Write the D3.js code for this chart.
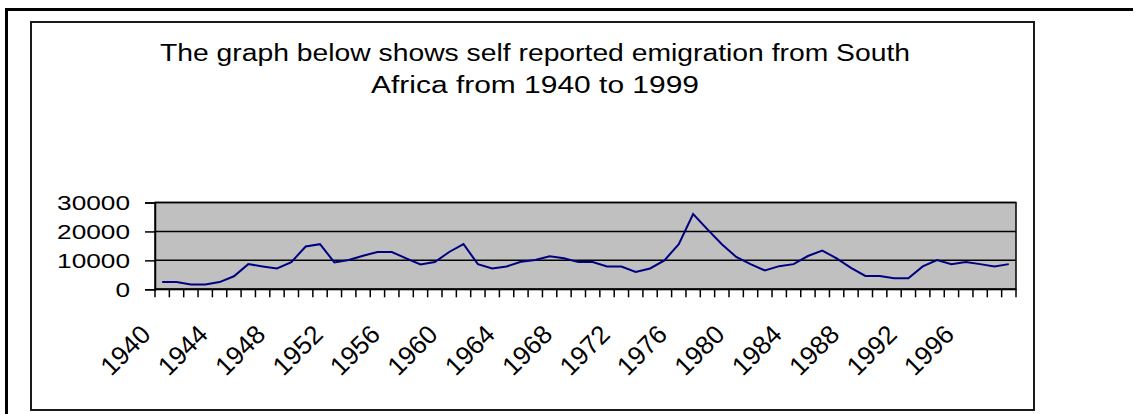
<!DOCTYPE html>
<html><head><meta charset="utf-8">
<script src="https://cdn.jsdelivr.net/npm/d3@7"></script>
<style>html,body{margin:0;padding:0;background:#fff}svg{display:block}</style>
</head><body>
<svg id="c" width="1135" height="414"></svg>
<script>
const years = d3.range(1940, 2000);
const emigrants = [
 2500,2500,1700,1700,2500,4500,8700,7900,7200,9400,
 14800,15600,9300,10100,11600,12900,12900,10700,8600,9400,
 12900,15600,8700,7200,7900,9500,10100,11400,10700,9400,
 9400,7900,7900,6000,7200,10000,15600,26000,20700,15600,
 11200,8700,6500,8000,8700,11500,13400,10700,7400,4600,
 4600,3800,3800,7900,10100,8700,9400,8700,7900,8700
];
const yTicks = [0, 10000, 20000, 30000];
const xTickLabels = [1940,1944,1948,1952,1956,1960,1964,1968,1972,1976,1980,1984,1988,1992,1996];
const titleLines = ["The graph below shows self reported emigration from South", "Africa from 1940 to 1999"];

const svg = d3.select("#c");
const font = "'Liberation Sans', Arial, sans-serif";

// outer frame (left and top)
svg.append("line").attr("x1",6.5).attr("y1",9.5).attr("x2",6.5).attr("y2",414).attr("stroke","#000").attr("stroke-width",3);
svg.append("line").attr("x1",5).attr("y1",9.5).attr("x2",1133).attr("y2",9.5).attr("stroke","#000").attr("stroke-width",3);
// inner chart box
svg.append("rect").attr("x",31).attr("y",22).attr("width",1003).attr("height",388)
  .attr("fill","#fff").attr("stroke","#1a1a1a").attr("stroke-width",2);

// title
const tl = [750, 328];
titleLines.forEach((t,i)=>{
  svg.append("text").attr("x",535).attr("y",61+i*32).attr("text-anchor","middle")
    .attr("font-family",font).attr("font-size",23).attr("fill","#000")
    .attr("textLength",tl[i]).attr("lengthAdjust","spacingAndGlyphs").text(t);
});

const L=155, R=1016, T=202.5, B=289.3;
const x = d3.scaleBand().domain(years).range([L,R]).padding(0);
const y = d3.scaleLinear().domain([0,30000]).range([B,T]);

// plot area
svg.append("rect").attr("x",L).attr("y",T).attr("width",R-L).attr("height",B-T).attr("fill","#c0c0c0");
// gridlines
svg.append("g").selectAll("line").data(yTicks.filter(d=>d>0)).join("line")
  .attr("x1",L).attr("x2",R).attr("y1",d=>y(d)).attr("y2",d=>y(d)).attr("stroke","#000").attr("stroke-width",1.5);
svg.append("rect").attr("x",L).attr("y",T).attr("width",R-L).attr("height",B-T).attr("fill","none").attr("stroke","#000").attr("stroke-width",1.5);

// y axis
const ya = svg.append("g").attr("transform",`translate(${L},0)`)
  .call(d3.axisLeft(y).tickValues(yTicks).tickSize(10).tickPadding(0).tickFormat(d3.format("d")));
ya.select(".domain").attr("stroke","#000").attr("stroke-width",1.5);
ya.selectAll(".tick line").attr("stroke","#000").attr("stroke-width",1.5);
ya.selectAll(".tick text").remove();
ya.selectAll(".tick").append("g").attr("transform","translate(-25,0) scale(1.28,1)")
  .append("text").attr("text-anchor","end").attr("dy","0.36em")
  .attr("font-family",font).attr("font-size",20.5).attr("fill","#000").text(d=>d);

// x axis ticks at category boundaries
const bounds = years.map(d=>x(d)).concat([R]);
svg.append("g").selectAll("line").data(bounds).join("line")
  .attr("x1",d=>d).attr("x2",d=>d).attr("y1",B).attr("y2",B+8).attr("stroke","#000").attr("stroke-width",1.5);
svg.append("line").attr("x1",L).attr("x2",R).attr("y1",B).attr("y2",B).attr("stroke","#000").attr("stroke-width",2);

// x labels
svg.append("g").selectAll("text").data(xTickLabels).join("text")
  .attr("transform",d=>`translate(${x(d)+x.bandwidth()/2-10},336) rotate(-45)`)
  .attr("text-anchor","end").attr("font-family",font).attr("font-size",26).attr("fill","#000").text(d=>d);

// line
const line = d3.line().x((d,i)=>x(years[i])+x.bandwidth()/2).y(d=>y(d));
svg.append("path").datum(emigrants).attr("d",line).attr("fill","none").attr("stroke","#000080").attr("stroke-width",2);
</script>
</body></html>
